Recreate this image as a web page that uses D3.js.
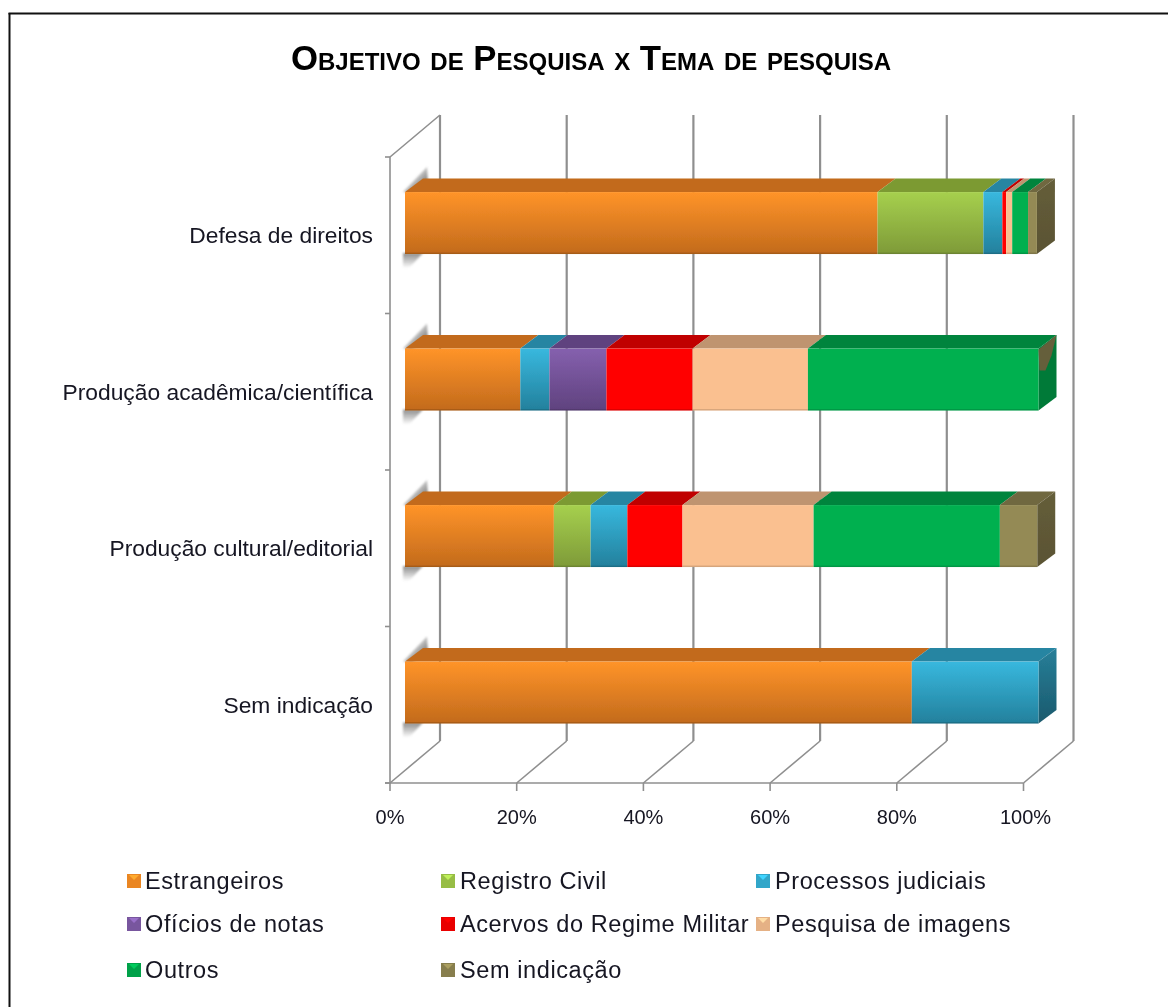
<!DOCTYPE html>
<html><head><meta charset="utf-8"><script src="https://cdn.jsdelivr.net/npm/d3@7/dist/d3.min.js"></script>
<style>html,body{margin:0;padding:0;background:#fff}svg{display:block}text{font-family:"Liberation Sans",Arial,sans-serif;fill:#141420}</style>
</head><body><div id="c"></div><script>
const categories=["Defesa de direitos","Produção acadêmica/científica","Produção cultural/editorial","Sem indicação"];
const seriesNames=["Estrangeiros","Registro Civil","Processos judiciais","Ofícios de notas","Acervos do Regime Militar","Pesquisa de imagens","Outros","Sem indicação"];
const estrangeiros=[74.6,18.2,23.5,80];
const registroCivil=[16.7,0,5.8,0];
const processosJudiciais=[3.0,4.6,5.8,20];
const oficiosDeNotas=[0,9.0,0,0];
const acervosRegimeMilitar=[0.6,13.6,8.7,0];
const pesquisaImagens=[0.95,18.2,20.7,0];
const outros=[2.5,36.4,29.4,0];
const semIndicacao=[1.4,0,5.9,0];
const seriesValues=[estrangeiros,registroCivil,processosJudiciais,oficiosDeNotas,acervosRegimeMilitar,pesquisaImagens,outros,semIndicacao];
const xTicks=[0,20,40,60,80,100];
const frontTop=["#ff9429","#a6d04e","#38b8de","#8560ae","#ff0000","#fac090","#00b050","#948a54"];
const frontBottom=["#c26a1c","#7e9a38","#23809c","#5f427e","#ff0000","#fac090","#00b050","#948a54"];
const topFace=["#c26b1b","#7b9a33","#2885a2","#5f437f","#c00000","#bf9470","#00843c","#6f673f"];
const sideTop=["#c26b1b","#7b9a33","#277f99","#5f437f","#c00000","#bf9470","#007a38","#655e3a"];
const sideBottom=["#8f4f14","#5f7a28","#1b5a6d","#4a3363","#900000","#a07a5c","#007a38","#5a5333"];
const artifactCategories=["Produção acadêmica/científica"];

const W=1168,H=1007;
const svg=d3.select("#c").append("svg").attr("width",W).attr("height",H);
const defs=svg.append("defs");
const f=(id,s,m)=>defs.append("filter").attr("id",id).attr("x",-m+"%").attr("y",-m+"%").attr("width",(100+2*m)+"%").attr("height",(100+2*m)+"%").append("feGaussianBlur").attr("stdDeviation",s);
f("soft",0.6,30);f("txt",0.3,30);f("shadow",1.2,60);
const grad=(id,c,x1,y1,x2,y2)=>{const l=defs.append("linearGradient").attr("id",id).attr("x1",x1).attr("y1",y1).attr("x2",x2).attr("y2",y2);
  c.forEach(([o,col,op])=>l.append("stop").attr("offset",o).attr("stop-color",col).attr("stop-opacity",op));};
grad("shTop",[[.25,"#808080",0],[.72,"#808080",.95]],0,0,1,1);
grad("shBot",[[0,"#808080",.9],[1,"#808080",0]],0,0,0,1);
seriesNames.forEach((n,i)=>{
  grad("f"+i,[[0,frontTop[i],1],[1,frontBottom[i],1]],0,0,0,1);
  grad("s"+i,[[0,sideTop[i],1],[1,sideBottom[i],1]],0,0,0,1);
});

// border (top and left only)
svg.append("line").attr("x1",8.5).attr("x2",W).attr("y1",13.5).attr("y2",13.5).attr("stroke","#111").attr("stroke-width",2);
svg.append("line").attr("x1",9.5).attr("x2",9.5).attr("y1",13).attr("y2",H).attr("stroke","#111").attr("stroke-width",2);

// title
svg.append("text").attr("x",591).attr("y",70).attr("text-anchor","middle").attr("font-size",34.75).attr("font-weight","bold")
  .style("font-variant","small-caps").style("fill","#000").attr("filter","url(#txt)").text("Objetivo de Pesquisa x Tema de pesquisa");

// scales: axis plane
const x=d3.scaleLinear().domain([0,100]).range([390,1023.5]);
const y=d3.scaleBand().domain(categories).range([157,783]).paddingInner(.604).paddingOuter(.302);
const yAxisBand=d3.scaleBand().domain(categories).range([157,783]);
const wallDx=50,wallDy=42;    // depth of the 3D walls
const barOffX=15,barOffY=12.2; // bar front plane relative to the axis plane
const barDx=18,barDy=13.5;     // depth of the bars

const grid=svg.append("g").attr("filter","url(#soft)").attr("fill","none").attr("stroke","#8f8f8f");
xTicks.forEach(t=>{
  const X=x(t);
  grid.append("line").attr("x1",X+wallDx).attr("x2",X+wallDx).attr("y1",157-wallDy).attr("y2",783-wallDy).attr("stroke-width",2.2);
  grid.append("line").attr("x1",X).attr("x2",X+wallDx).attr("y1",783).attr("y2",783-wallDy).attr("stroke-width",1.6);
  grid.append("line").attr("x1",X).attr("x2",X).attr("y1",783).attr("y2",791).attr("stroke-width",1.6);
});
grid.append("line").attr("x1",x(0)).attr("x2",x(0)+wallDx).attr("y1",157).attr("y2",157-wallDy).attr("stroke-width",1.6);
grid.append("line").attr("x1",x(0)).attr("x2",x(0)).attr("y1",157).attr("y2",783).attr("stroke-width",1.6);
grid.append("line").attr("x1",x(0)-5).attr("x2",x(100)).attr("y1",783).attr("y2",783).attr("stroke-width",1.6);
[...categories.map(c=>yAxisBand(c)),783].forEach(v=>grid.append("line").attr("x1",x(0)-5).attr("x2",x(0)).attr("y1",v).attr("y2",v).attr("stroke-width",1.6));

// stacks
const rows=categories.map((c,i)=>{const o={cat:c};seriesNames.forEach((n,j)=>o[j]=seriesValues[j][i]);return o;});
const stacked=d3.stack().keys(seriesNames.map((n,j)=>j))(rows);
const pts=a=>a.map(p=>p.join(",")).join(" ");

categories.forEach((c,ci)=>{
  const g=svg.append("g");
  const yT=y(c)-barOffY,h=y.bandwidth(),yB=yT+h,x0=x(0)+barOffX;
  // soft shadow on the wall
  g.append("polygon").attr("filter","url(#shadow)").attr("fill","url(#shTop)")
    .attr("points",pts([[x0-2,yT],[x0+22,yT-25],[x0+23,yT-8],[x0+6,yT+1]]));
  g.append("polygon").attr("filter","url(#shadow)").attr("fill","url(#shBot)")
    .attr("points",pts([[x0-2,yB-1],[x0+18,yB-1],[x0+4,yB+14],[x0-2,yB+14]]));
  const bar=g.append("g").attr("filter","url(#soft)");
  let last=-1;
  stacked.forEach((s,i)=>{ if(s[ci][1]-s[ci][0]>0) last=i; });
  stacked.forEach((s,i)=>{
    const v=s[ci]; if(v[1]-v[0]<=0) return;
    const a=x(v[0])+barOffX,b=x(v[1])+barOffX;
    bar.append("polygon").attr("points",pts([[a,yT],[b,yT],[b+barDx,yT-barDy],[a+barDx,yT-barDy]])).attr("fill",topFace[i]);
    if(i===last) bar.append("polygon").attr("points",pts([[b,yT],[b+barDx,yT-barDy],[b+barDx,yB-barDy],[b,yB]])).attr("fill","url(#s"+i+")");
    bar.append("rect").attr("x",a).attr("y",yT).attr("width",b-a).attr("height",h).attr("fill","url(#f"+i+")");
    bar.append("rect").attr("x",a).attr("y",yB-1.5).attr("width",b-a).attr("height",1.5).attr("fill","#000").attr("opacity",.14);
    if(i===last&&artifactCategories.includes(c)){
      bar.append("polygon").attr("points",pts([[b,yT+1],[b+barDx,yT-barDy],[b+13,yT+7],[b+7,yT+22],[b+1,yT+22]])).attr("fill","#655e3a");
    }
  });
  g.append("text").attr("x",373).attr("y",yAxisBand(c)+yAxisBand.bandwidth()/2+8).attr("text-anchor","end").attr("font-size",22.8).attr("filter","url(#txt)").text(c);
});

// x tick labels
xTicks.forEach(t=>svg.append("text").attr("x",x(t)+ (t===100?2:0)).attr("y",824).attr("text-anchor","middle").attr("font-size",20).attr("filter","url(#txt)").text(t+"%"));

// legend
const legendCols=[127,441,756],legendRows=[881,924,970];
seriesNames.forEach((n,i)=>{
  const X=legendCols[i%3],Y=legendRows[Math.floor(i/3)];
  const g=svg.append("g").attr("transform",`translate(${X},${Y})`);
  const sw=g.append("g").attr("filter","url(#txt)");
  sw.append("rect").attr("x",0).attr("y",-7).attr("width",14).attr("height",14).attr("fill",d3.interpolateRgb(frontTop[i],topFace[i])(.35));
  sw.append("polygon").attr("points","2,-6 12,-6 7,-1").attr("fill",d3.color(frontTop[i]).brighter(.4));
  g.append("text").attr("x",i%3===0?18:19).attr("y",8).attr("font-size",23.5).attr("letter-spacing",.6).attr("filter","url(#txt)").text(n);
});
</script></body></html>
